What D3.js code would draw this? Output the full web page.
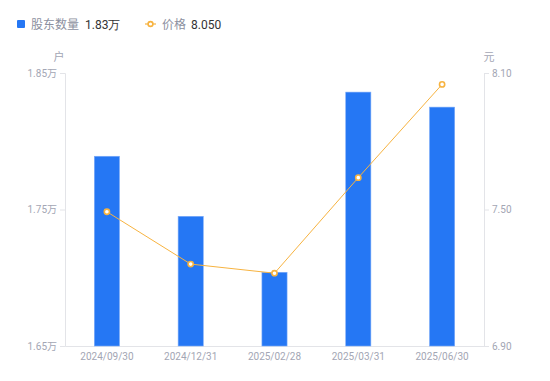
<!DOCTYPE html>
<html><head><meta charset="utf-8">
<script src="https://cdn.jsdelivr.net/npm/d3@7"></script>
<style>body{margin:0;background:#fff;font-family:"Noto Sans CJK SC","Noto Sans",sans-serif;}</style>
</head><body>
<svg id="c" width="550" height="381"></svg>
<script>
const categories = ["2024/09/30","2024/12/31","2025/02/28","2025/03/31","2025/06/30"];
const holders = [1.789, 1.745, 1.704, 1.836, 1.825];
const prices = [7.49, 7.26, 7.22, 7.64, 8.05];
const leftTicks = [1.65, 1.75, 1.85];
const rightTicks = [6.90, 7.50, 8.10];
const legendNames = ["股东数量", "价格"];
const legendValues = ["1.83万", "8.050"];

const svg = d3.select("#c");
const L = 65, R = 484, T = 73, B = 346;
const barColor = "#2577F4", lineColor = "#F7B340", tickColor = "#a3a6b4";

const x = d3.scaleBand().domain(categories).range([L, R]).paddingInner(0).paddingOuter(0);
const yL = d3.scaleLinear().domain([1.65, 1.85]).range([B, T]);
const yR = d3.scaleLinear().domain([6.90, 8.10]).range([B, T]);

// axes
const axL = svg.append("g").attr("transform", `translate(${L},0)`)
  .call(d3.axisLeft(yL).tickValues(leftTicks).tickSize(5).tickPadding(3).tickFormat(d => d.toFixed(2) + "万"));
const axR = svg.append("g").attr("transform", `translate(${R},0)`)
  .call(d3.axisRight(yR).tickValues(rightTicks).tickSize(5).tickPadding(3).tickFormat(d => d.toFixed(2)));
const axB = svg.append("g").attr("transform", `translate(0,${B})`)
  .call(d3.axisBottom(x).tickSize(0).tickPadding(7));
[axL, axR, axB].forEach(a => {
  a.select(".domain").attr("stroke", "#e3e4e8");
  a.selectAll(".tick line").attr("stroke", "#e3e4e8");
  a.selectAll("text").attr("fill", tickColor).style("font-size", "10px").style("font-family", "Roboto, 'Noto Sans CJK SC', sans-serif");
});

// unit labels
svg.append("text").attr("x", 59).attr("y", 61).attr("text-anchor", "middle").attr("fill", tickColor).style("font-size", "11px").text("户");
svg.append("text").attr("x", 489).attr("y", 61).attr("text-anchor", "middle").attr("fill", tickColor).style("font-size", "11px").text("元");

// bars
const bw = x.bandwidth() * 0.3;
svg.append("g").selectAll("rect").data(holders).join("rect")
  .attr("x", (d, i) => x(categories[i]) + x.bandwidth() / 2 - bw / 2)
  .attr("y", d => yL(d))
  .attr("width", bw)
  .attr("height", d => B - yL(d))
  .attr("fill", barColor)
  .attr("stroke", "#7aaaf8").attr("stroke-width", 0.6);

// line
const line = d3.line().x((d, i) => x(categories[i]) + x.bandwidth() / 2).y(d => yR(d));
svg.append("path").datum(prices).attr("d", line).attr("fill", "none").attr("stroke", lineColor).attr("stroke-width", 1);
svg.append("g").selectAll("circle").data(prices).join("circle")
  .attr("cx", (d, i) => x(categories[i]) + x.bandwidth() / 2)
  .attr("cy", d => yR(d))
  .attr("r", 2.6)
  .attr("fill", "#fff").attr("stroke", lineColor).attr("stroke-width", 1.6);

// legend
const lg = svg.append("g").style("font-size", "12px");
lg.append("rect").attr("x", 17).attr("y", 20).attr("width", 8).attr("height", 8).attr("rx", 1).attr("fill", barColor);
lg.append("text").attr("x", 31).attr("y", 28.5).attr("fill", "#8c90a0").text(legendNames[0]);
lg.append("text").attr("x", 85).attr("y", 28.5).attr("fill", "#333").style("font-family", "Roboto, sans-serif").text(legendValues[0]);
lg.append("line").attr("x1", 145).attr("x2", 156).attr("y1", 24).attr("y2", 24).attr("stroke", lineColor).attr("stroke-width", 1.2);
lg.append("circle").attr("cx", 150.5).attr("cy", 24).attr("r", 2.4).attr("fill", "#fff").attr("stroke", lineColor).attr("stroke-width", 1.6);
lg.append("text").attr("x", 162).attr("y", 28.5).attr("fill", "#8c90a0").text(legendNames[1]);
lg.append("text").attr("x", 191).attr("y", 28.5).attr("fill", "#333").style("font-family", "Roboto, sans-serif").text(legendValues[1]);
</script>
</body></html>
